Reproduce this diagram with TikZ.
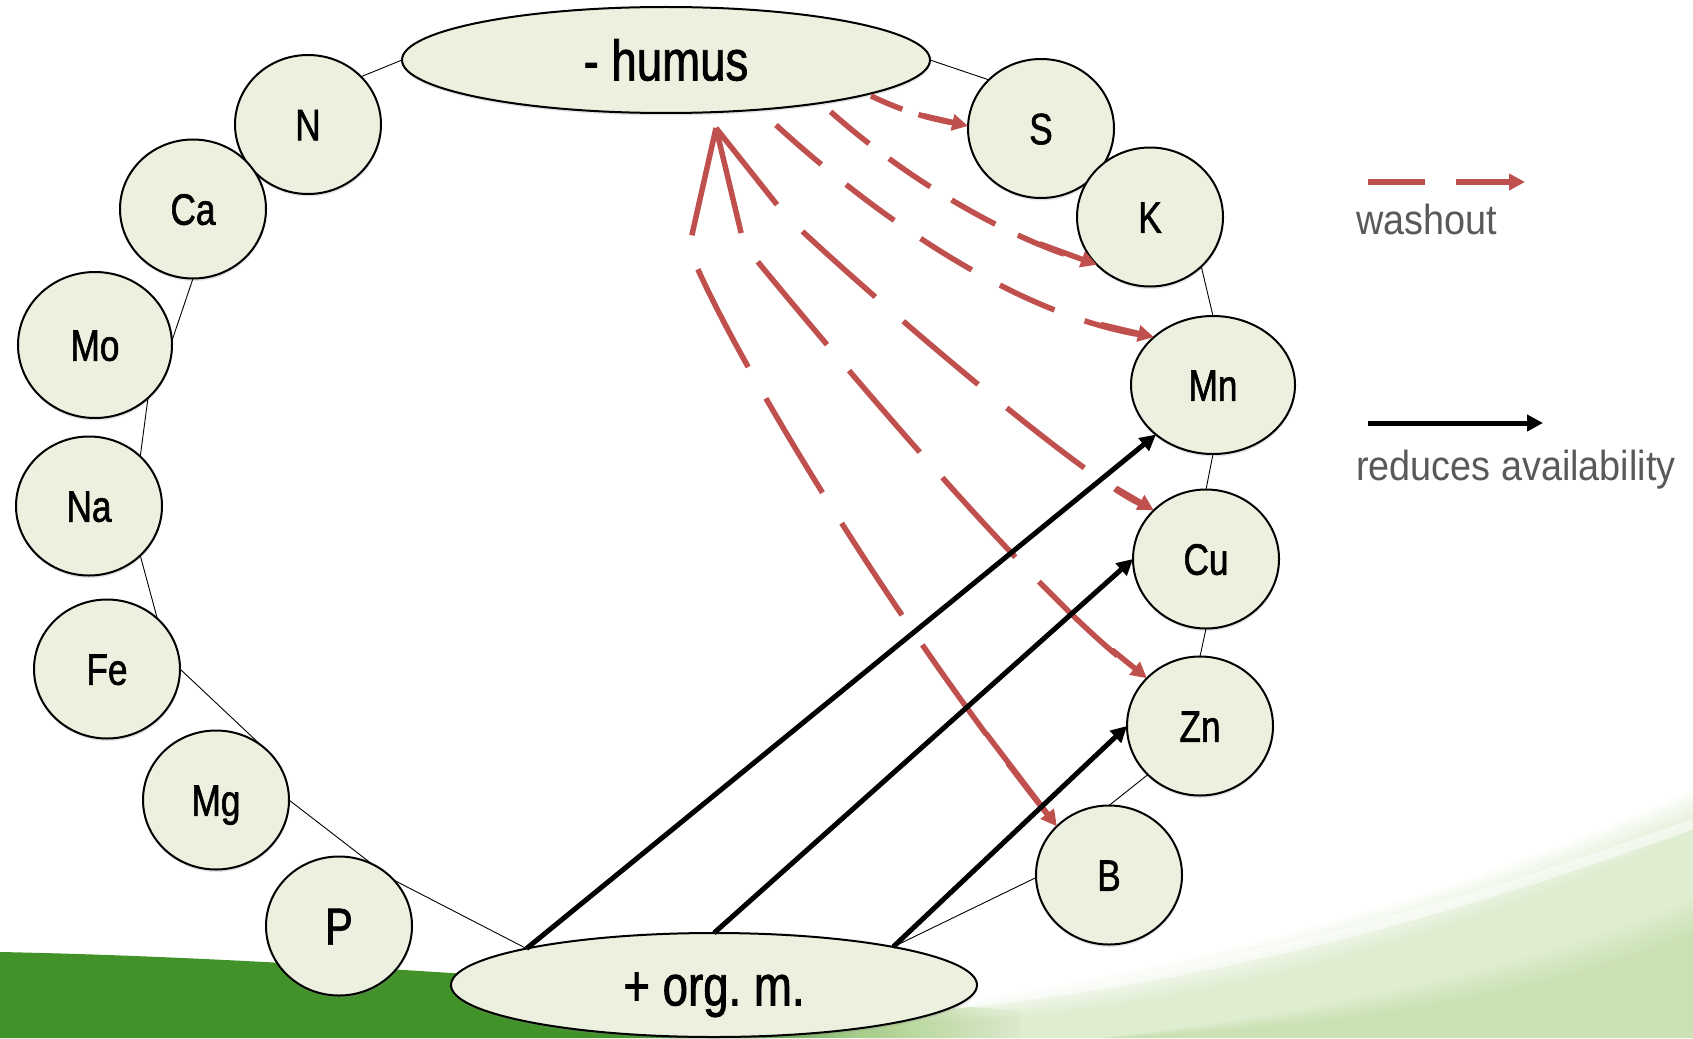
\documentclass[tikz,border=0pt]{standalone}
\usepackage{fontspec}
\newfontfamily\cf[FakeStretch=0.8,FakeBold=1.3]{Liberation Sans}
\newfontfamily\lf[FakeStretch=0.9]{Liberation Sans}
\usetikzlibrary{shapes.geometric,arrows.meta,shadows}
\definecolor{nodefill}{HTML}{EBF1DE}
\definecolor{washred}{HTML}{C0504D}
\definecolor{leggray}{HTML}{595959}
\definecolor{gd}{HTML}{42922A}
\definecolor{gl}{HTML}{A9CF85}
\pgfdeclarehorizontalshading{greenfade}{100bp}{color(0bp)=(gd); color(25bp)=(gd); color(60bp)=(gd); color(69bp)=(gl!70!white); color(75bp)=(white); color(100bp)=(white)}
\tikzset{
  elem/.style={ellipse, draw=black, line width=2pt, fill=nodefill,
    minimum width=146pt, minimum height=139pt, inner sep=0pt, outer sep=0pt,
    font=\cf\fontsize{44}{50}\selectfont, text height=31.5pt, text depth=0pt,
    drop shadow={shadow xshift=0.5pt, shadow yshift=-2.5pt, opacity=0.22}},
  bigell/.style={elem, font=\cf\fontsize{57}{62}\selectfont, text height=40.8pt},
  ring/.style={draw=black, line width=0.9pt},
  washline/.style={draw=washred, line width=5.5pt},
  washhead/.style={draw=washred, line width=5.5pt, -{Triangle[length=16pt,width=16pt]}},
  reduce/.style={draw=black, line width=5pt, -{Triangle[length=16pt,width=16pt]}},
  legtext/.style={inner sep=0pt, text=leggray, font=\lf\fontsize{42}{48}\selectfont}
}
\begin{document}
\begin{tikzpicture}[x=1pt,y=-1pt]
\useasboundingbox (0,0) rectangle (1693,1038);
% background
\shade[shading=greenfade] (0,952) .. controls (300,958) and (600,985) .. (1020,1010) -- (1020,1038) -- (0,1038) -- cycle;
\foreach \d in {0,5,...,40} {
  \fill[gl, opacity=0.05] (860,{1012+\d*0.3}) .. controls (1150,{985+\d}) and (1450,{900+\d}) .. (1693,{790+\d}) -- (1693,1038) -- (860,1038) -- cycle;
}
\foreach \d in {0,6,...,36} {
  \fill[gl, opacity=0.07] (1100,1038) .. controls (1350,{1010+\d*0.5}) and (1550,{960+\d}) .. (1693,{900+\d}) -- (1693,1038) -- cycle;
}
\draw[white, line width=10pt, opacity=0.5] (950,1004) .. controls (1250,974) and (1500,894) .. (1693,824);

% nodes
\node[bigell, minimum width=528pt, minimum height=106pt] (humus) at (666,60) {- humus};
\node[bigell, minimum width=526pt, minimum height=104pt] (orgm) at (714,985) {+ org.\ m.};
\node[elem] (N) at (308,124.5) {N};
\node[elem] (Ca) at (193,209) {Ca};
\node[elem, minimum width=154pt, minimum height=146pt] (Mo) at (95,345) {Mo};
\node[elem] (Na) at (89,506) {Na};
\node[elem] (Fe) at (107,669) {Fe};
\node[elem] (Mg) at (216,800) {Mg};
\node[elem, font=\cf\fontsize{52}{58}\selectfont, text height=37.2pt] (P) at (339,926) {P};
\node[elem] (S) at (1041,128.5) {S};
\node[elem] (K) at (1150,217) {K};
\node[elem, minimum width=164pt, minimum height=138pt] (Mn) at (1213,385) {Mn};
\node[elem] (Cu) at (1206,559) {Cu};
\node[elem] (Zn) at (1200,726) {Zn};
\node[elem] (B) at (1109,875) {B};

% ring
\draw[ring] (humus.west) -- (N.42);
\draw[ring] (Ca.south) -- (Mo.3);
\draw[ring] (Mo.-45) -- (Na.44);
\draw[ring] (Na.-44) -- (Fe.45);
\draw[ring] (Fe.east) -- (Mg.50);
\draw[ring] (Mg.east) -- (P.62);
\draw[ring] (P.40) -- (orgm.169);
\draw[ring] (orgm.12) -- (B.182);
\draw[ring] (B.north) -- (Zn.223);
\draw[ring] (Zn.north) -- (Cu.south);
\draw[ring] (Cu.north) -- (Mn.south);
\draw[ring] (Mn.north) -- (K.-44);
\draw[ring] (S.137) -- (humus.east);

% washout arrows
\coordinate (apex) at (716,128);
\coordinate (sMn) at (776,125);
\coordinate (sK) at (830.6,111.7);
\coordinate (sS) at (871,96);
\coordinate (bB) at (689,248);
\coordinate (bZn) at (744,245);
\coordinate (bCu) at (786,216);

\draw[washline, dash pattern=on 34pt off 17pt, shorten >=16pt] (sS) .. controls (907,113) and (929,118) .. (S.178) coordinate[pos=0.55] (tS);
\draw[washhead] (tS) -- (S.178);
\draw[washline, dash pattern=on 50pt off 25pt, shorten >=16pt] (sK) .. controls (905.4,178.1) and (1001.3,235.1) .. (K.222) coordinate[pos=0.8] (tK);
\draw[washhead] (tK) -- (K.222);
\draw[washline, dash pattern=on 60pt off 32pt, shorten >=16pt] (sMn) .. controls (864.6,206) and (1005.4,310.9) .. (Mn.141) coordinate[pos=0.88] (tMn);
\draw[washhead] (tMn) -- (Mn.141);
\draw[washline, dash pattern=on 98pt off 37pt, shorten >=16pt] (apex) -- (bCu) .. controls (880,305) and (1080,475) .. (Cu.137) coordinate[pos=0.86] (tCu);
\draw[washhead] (tCu) -- (Cu.137);
\draw[washline, dash pattern=on 108pt off 34pt, shorten >=16pt] (apex) -- (bZn) .. controls (830,350) and (1040,600) .. (Zn.138) coordinate[pos=0.9] (tZn);
\draw[washhead] (tZn) -- (Zn.138);
\draw[washline, dash pattern=on 110pt off 36pt, shorten >=16pt] (apex) -- (bB) .. controls (720,330) and (870,590) .. (B.137) coordinate[pos=0.87] (tB);
\draw[washhead] (tB) -- (B.137);

% reduces availability arrows
\draw[reduce] (orgm.169) -- (Mn.221);
\draw[reduce] (orgm.north) -- (Cu.west);
\draw[reduce] (orgm.12) -- (Zn.west);

% legend
\coordinate (lw1) at (1368,182);
\coordinate (lw2) at (1525,182);
\draw[washhead, dash pattern=on 57pt off 31pt] (lw1) -- (lw2);
\node[legtext, anchor=base west] (lwt) at (1356,234) {washout};
\coordinate (lb1) at (1368,423);
\coordinate (lb2) at (1543,423);
\draw[reduce] (lb1) -- (lb2);
\node[legtext, anchor=base west] (lbt) at (1356,480) {reduces availability};
\end{tikzpicture}
\end{document}
